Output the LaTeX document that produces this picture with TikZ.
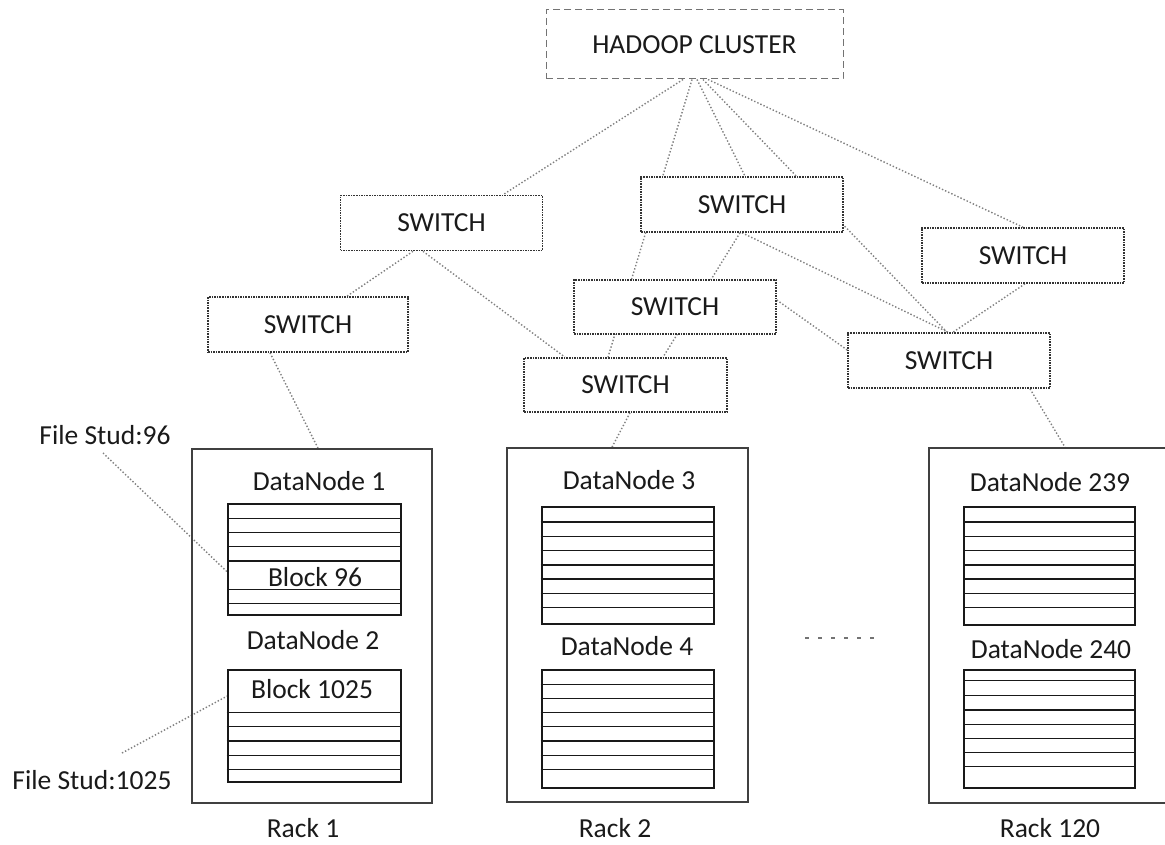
\documentclass[tikz,border=0pt]{standalone}
\usepackage{fontspec}
\setmainfont{Carlito}
\usetikzlibrary{calc}
\pgfdeclarelayer{bg}
\pgfsetlayers{bg,main}
\definecolor{txt}{HTML}{1A1A1A}
\begin{document}
\begin{tikzpicture}[x=1pt,y=-1pt,
  lbl/.style={text=txt,font=\fontsize{27.5}{33}\selectfont,inner sep=0pt},
  sw/.style={draw=black!80,densely dotted,line width=1.6pt,fill=white,
    minimum width=202pt,minimum height=55pt,inner sep=0pt,text=txt,
    font=\fontsize{27.5}{33}\selectfont},
  cluster/.style={draw=black!55,dash pattern=on 7pt off 4pt,line width=1pt,fill=white,
    minimum width=297pt,minimum height=69pt,inner sep=0pt,text=txt,
    font=\fontsize{27.5}{33}\selectfont},
  conn/.style={draw=black!50,dotted,line width=1.4pt},
  rack/.style={draw=black!75,line width=1.7pt,inner sep=0pt},
  stk/.style={draw=black!90,line width=1.4pt,inner sep=0pt},
  rowline/.style={draw=black!90,line width=1.4pt}
]
\useasboundingbox (0,0) rectangle (1165,845);
\clip (0,0) rectangle (1165,845);
\begin{pgfonlayer}{bg}
\fill[white] (0,0) rectangle (1165,845);
\end{pgfonlayer}

% cluster and switches
\node[cluster] (cl) at (694.5,44.5) {HADOOP CLUSTER};
\node[sw] (swA) at (441.5,223) {SWITCH};
\node[sw,minimum width=200pt] (swB) at (308,324.5) {SWITCH};
\node[sw] (swC) at (742,204.5) {SWITCH};
\node[sw,minimum height=54pt] (swD) at (675,307) {SWITCH};
\node[sw,minimum width=203pt,minimum height=54pt] (swE) at (625.5,385) {SWITCH};
\node[sw] (swF) at (1023,255.5) {SWITCH};
\node[sw] (swG) at (949,360.5) {SWITCH};

% racks
\node[rack,minimum width=240pt,minimum height=354pt] (r1) at (312,626) {};
\node[rack,minimum width=241pt,minimum height=354pt] (r2) at (627.5,625) {};
\node[rack,minimum width=261pt,minimum height=355pt] (r3) at (1059.5,625.5) {};

% stacks
\node[stk,minimum width=173pt,minimum height=111pt] (s11) at (314.5,559.5) {};
\node[stk,minimum width=173pt,minimum height=112pt] (s12) at (314.5,726) {};
\node[stk,minimum width=172pt,minimum height=117pt] (s21) at (628,565.5) {};
\node[stk,minimum width=172pt,minimum height=118pt] (s22) at (628,729) {};
\node[stk,minimum width=171pt,minimum height=118pt] (s31) at (1049.5,566) {};
\node[stk,minimum width=171pt,minimum height=118pt] (s32) at (1049.5,729) {};

\foreach \y in {518.3,532.7,546.7,561,589.3,603.3} \draw[rowline] (228,\y) -- (401,\y);
\foreach \y in {712.7,726.7,741,755.3,769.3} \draw[rowline] (226.5,\y) -- (401,\y);
\foreach \y in {522,536.3,550.7,565,579,593.3,607.7} \draw[rowline] (540.5,\y) -- (714,\y);
\foreach \y in {684.3,698.3,712.7,726.7,741,755.3,769.3} \draw[rowline] (540.5,\y) -- (714,\y);
\foreach \y in {522,536.3,550.7,565,579,593.3,607.7} \draw[rowline] (963,\y) -- (1135,\y);
\foreach \y in {680.7,695.7,710,724.3,738.3,752.7,766.7} \draw[rowline] (963,\y) -- (1135,\y);

% labels
\node[lbl] (fs96) at (105,435) {File Stud:96};
\node[lbl] (fs1025) at (92,780) {File Stud:1025};
\coordinate (fs96a) at (103,453);
\coordinate (fs1025a) at (122,753);
\node[lbl] (dn1) at (319,481) {DataNode 1};
\node[lbl] (b96) at (315,577) {Block 96};
\node[lbl] (dn2) at (313,640) {DataNode 2};
\node[lbl] (b1025) at (312,689) {Block 1025};
\node[lbl] (dn3) at (629,480) {DataNode 3};
\node[lbl] (dn4) at (627,646) {DataNode 4};
\node[lbl] (dn239) at (1050,482) {DataNode 239};
\node[lbl] (dn240) at (1051,649) {DataNode 240};
\node[lbl] (rk1) at (303,828) {Rack 1};
\node[lbl] (rk2) at (615,828) {Rack 2};
\node[lbl] (rk3) at (1050,828) {Rack 120};

\coordinate (dA) at (805,638);
\coordinate (dB) at (877,638);
\draw[black!55,dash pattern=on 4pt off 9pt,line width=1.5pt] (dA) -- (dB);

% connectors
\begin{pgfonlayer}{bg}
\draw[conn] ([xshift=-11.5pt]cl.south) -- ([xshift=61.5pt]swA.north);
\draw[conn] ([xshift=-2.5pt]cl.south) -- ([xshift=-17.5pt]swE.north);
\draw[conn] ([xshift=2.5pt]cl.south) -- ([xshift=3pt]swC.north);
\draw[conn] ([xshift=8.5pt]cl.south) -- ([xshift=-2pt]swG.north);
\draw[conn] ([xshift=13.5pt]cl.south) -- (swF.north);
\draw[conn] ([xshift=-28.5pt]swA.south) -- ([xshift=39pt]swB.north);
\draw[conn] ([xshift=-18.5pt]swA.south) -- ([xshift=-60.5pt]swE.north);
\draw[conn] ([xshift=-2pt]swC.south) -- ([xshift=37.5pt]swE.north);
\draw[conn] (swC.south) -- ([xshift=-1pt]swG.north);
\draw[conn] ([yshift=7pt]swD.east) -- ([yshift=10.5pt]swG.west);
\draw[conn] ([xshift=2pt]swF.south) -- ([xshift=4pt]swG.north);
\draw[conn] ([xshift=81pt]swG.south) -- ([xshift=5.5pt]r3.north);
\draw[conn] ([xshift=4.5pt]swE.south) -- ([xshift=-15.5pt]r2.north);
\draw[conn] ([xshift=-38pt]swB.south) -- ([xshift=6pt]r1.north);
\draw[conn] (fs96a) -- ([yshift=-12.5pt]s11.west);
\draw[conn] (fs1025a) -- ([yshift=30pt]s12.west);
\end{pgfonlayer}
\end{tikzpicture}
\end{document}
